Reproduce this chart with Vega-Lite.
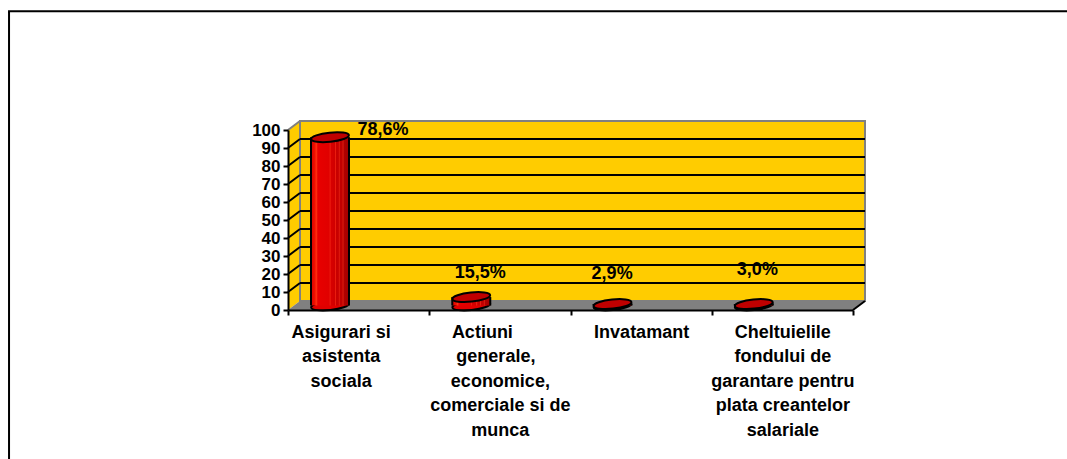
{"$schema":"https://vega.github.io/schema/vega-lite/v6.json","autosize":{"type":"none"},"padding":{"left":288,"top":130,"right":214,"bottom":149},"width":565,"height":180,"background":"white","config":{"view":{"stroke":null}},"datasets":{"cyl":[{"cat":"Asigurari si\u2002\u2002\u2002\u2002\u2060|asistenta\u2002\u2002\u2002\u2002\u2060|sociala\u2002\u2002\u2002\u2002\u2060","value":96,"pct":"78,6%"},{"cat":"Actiuni\u2002\u2002\u2002\u2002\u2060|generale,\u2002\u2060|economice,|comerciale si de|munca","value":7.2,"pct":"15,5%"},{"cat":"Invatamant","value":3.3,"pct":"2,9%"},{"cat":"Cheltuielile|fondului de|garantare pentru|plata creantelor|salariale","value":3.3,"pct":"3,0%"}],"grid":[{"a":0,"b":0.085,"c":10,"d":15},{"a":0.085,"b":4.085,"c":15,"d":15},{"a":0,"b":0.085,"c":20,"d":25},{"a":0.085,"b":4.085,"c":25,"d":25},{"a":0,"b":0.085,"c":30,"d":35},{"a":0.085,"b":4.085,"c":35,"d":35},{"a":0,"b":0.085,"c":40,"d":45},{"a":0.085,"b":4.085,"c":45,"d":45},{"a":0,"b":0.085,"c":50,"d":55},{"a":0.085,"b":4.085,"c":55,"d":55},{"a":0,"b":0.085,"c":60,"d":65},{"a":0.085,"b":4.085,"c":65,"d":65},{"a":0,"b":0.085,"c":70,"d":75},{"a":0.085,"b":4.085,"c":75,"d":75},{"a":0,"b":0.085,"c":80,"d":85},{"a":0.085,"b":4.085,"c":85,"d":85},{"a":0,"b":0.085,"c":90,"d":95},{"a":0.085,"b":4.085,"c":95,"d":95},{"a":4,"b":4.085,"c":0,"d":5}]},"resolve":{"scale":{"x":"independent"}},"layer":[{"encoding":{"x":{"field":"a","type":"quantitative","scale":{"domain":[0,4],"nice":false,"zero":false},"axis":null},"y":{"field":"c","type":"quantitative","scale":{"domain":[0,100],"nice":false},"axis":{"title":null,"values":[0,10,20,30,40,50,60,70,80,90,100],"grid":false,"domainColor":"black","domainWidth":2,"tickColor":"black","tickWidth":2,"tickSize":5,"labelFont":"Liberation Sans","labelFontWeight":"bold","labelFontSize":17,"labelColor":"black","labelPadding":3,"labelOverlap":false,"labelBound":false,"labelFlush":false,"zindex":1}}},"layer":[{"data":{"values":[{"a":-1.975,"b":5.75,"c":166,"d":-94.4}]},"mark":{"type":"rect","fill":null,"stroke":"black","strokeWidth":2},"encoding":{"x2":{"field":"b"},"y2":{"field":"d"}}},{"data":{"values":[{"a":0,"c":0,"d":100},{"a":0.085,"c":5,"d":105}]},"mark":{"type":"area","fill":"#FFCC00","orient":"vertical"},"encoding":{"y2":{"field":"d"}}},{"data":{"values":[{"a":0,"b":4,"c":0},{"a":0.085,"b":4.085,"c":5}]},"mark":{"type":"area","fill":"#808080","orient":"horizontal"},"encoding":{"x2":{"field":"b"}}},{"data":{"values":[{"a":0.085,"b":4.085,"c":5,"d":105}]},"mark":{"type":"rect","fill":"#FFCC00","stroke":"#808080","strokeWidth":2},"encoding":{"x2":{"field":"b"},"y2":{"field":"d"}}},{"data":{"values":[{"a":0,"b":0.085,"c":100,"d":105}]},"mark":{"type":"rule","color":"#808080","strokeWidth":2},"encoding":{"x2":{"field":"b"},"y2":{"field":"d"}}},{"data":{"name":"grid"},"mark":{"type":"rule","color":"black","strokeWidth":2},"encoding":{"x2":{"field":"b"},"y2":{"field":"d"}}}]},{"data":{"name":"cyl"},"encoding":{"x":{"field":"cat","type":"nominal","sort":null,"scale":{"paddingInner":0,"paddingOuter":0},"axis":{"title":null,"labelExpr":"split(datum.label,'|')","labelAngle":0,"labelFont":"Liberation Sans","labelFontWeight":"bold","labelFontSize":18,"labelLineHeight":24.6,"labelColor":"black","labelLimit":0,"labelOverlap":false,"labelBound":false,"labelPadding":8,"tickBand":"extent","tickColor":"black","tickWidth":2,"tickSize":5,"domainColor":"black","domainWidth":2,"zindex":1}},"y":{"field":"value","type":"quantitative","axis":{"title":null,"values":[0,10,20,30,40,50,60,70,80,90,100],"grid":false,"domainColor":"black","domainWidth":2,"tickColor":"black","tickWidth":2,"tickSize":5,"labelFont":"Liberation Sans","labelFontWeight":"bold","labelFontSize":17,"labelColor":"black","labelPadding":3,"labelOverlap":false,"labelBound":false,"labelFlush":false,"zindex":1}}},"layer":[{"mark":{"type":"point","filled":true,"shape":"M-0.995,0.105 A1,0.24 -6 1 1 0.995,-0.105 A1,0.24 -6 1 1 -0.995,0.105 Z","size":1444,"fill":"#E00000","stroke":"black","strokeWidth":2,"opacity":1,"xOffset":-28.6},"encoding":{"y":{"datum":2.5,"type":"quantitative","axis":{"title":null,"values":[0,10,20,30,40,50,60,70,80,90,100],"grid":false,"domainColor":"black","domainWidth":2,"tickColor":"black","tickWidth":2,"tickSize":5,"labelFont":"Liberation Sans","labelFontWeight":"bold","labelFontSize":17,"labelColor":"black","labelPadding":3,"labelOverlap":false,"labelBound":false,"labelFlush":false,"zindex":1}}}},{"mark":{"type":"bar","size":38,"xOffset":-28.6,"fill":{"gradient":"linear","x1":0,"x2":1,"y1":0,"y2":0,"stops":[{"offset":0,"color":"#D80000"},{"offset":0.1,"color":"#F01000"},{"offset":0.14,"color":"#FF3010"},{"offset":0.18,"color":"#E80000"},{"offset":0.48,"color":"#E00000"},{"offset":0.5,"color":"#F02010"},{"offset":0.53,"color":"#D80000"},{"offset":0.62,"color":"#D00000"},{"offset":0.64,"color":"#F02010"},{"offset":0.67,"color":"#C80000"},{"offset":0.72,"color":"#C80000"},{"offset":0.74,"color":"#E82010"},{"offset":0.77,"color":"#C00000"},{"offset":0.82,"color":"#C00000"},{"offset":0.84,"color":"#E02010"},{"offset":0.87,"color":"#B00000"},{"offset":1,"color":"#A00000"}]},"stroke":null},"encoding":{"y2":{"datum":2.5}}},{"mark":{"type":"rule","color":"black","strokeWidth":2,"xOffset":-47.6},"encoding":{"y2":{"datum":2.5}}},{"mark":{"type":"rule","color":"black","strokeWidth":2,"xOffset":-9.6},"encoding":{"y2":{"datum":2.5}}},{"mark":{"type":"point","filled":true,"shape":"M-0.995,0.105 A1,0.24 -6 1 1 0.995,-0.105 A1,0.24 -6 1 1 -0.995,0.105 Z","size":1444,"fill":"#C00000","stroke":"black","strokeWidth":2,"opacity":1,"xOffset":-28.6}},{"transform":[{"filter":"datum.pct === '78,6%'"}],"mark":{"type":"text","font":"Liberation Sans","fontWeight":"bold","fontSize":18,"color":"black","xOffset":24.4,"yOffset":-7},"encoding":{"text":{"field":"pct"}}},{"transform":[{"filter":"datum.pct === '15,5%'"}],"mark":{"type":"text","font":"Liberation Sans","fontWeight":"bold","fontSize":18,"color":"black","xOffset":-19.6,"yOffset":-24},"encoding":{"text":{"field":"pct"}}},{"transform":[{"filter":"datum.pct === '2,9%'"}],"mark":{"type":"text","font":"Liberation Sans","fontWeight":"bold","fontSize":18,"color":"black","xOffset":-29,"yOffset":-30},"encoding":{"text":{"field":"pct"}}},{"transform":[{"filter":"datum.pct === '3,0%'"}],"mark":{"type":"text","font":"Liberation Sans","fontWeight":"bold","fontSize":18,"color":"black","xOffset":-25,"yOffset":-34},"encoding":{"text":{"field":"pct"}}}]}]}
